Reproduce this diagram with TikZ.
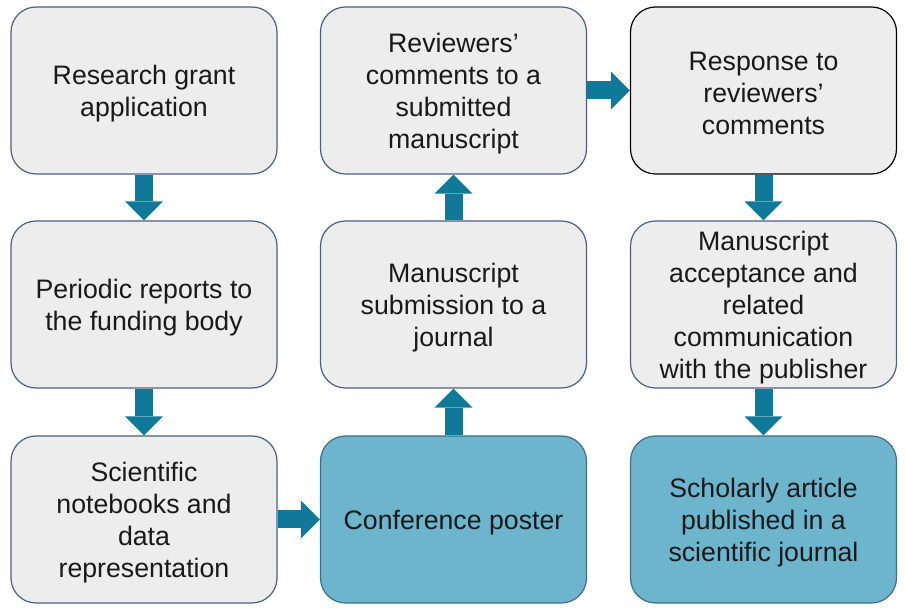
\documentclass[tikz,border=0pt]{standalone}
\usepackage{fontspec}
\setmainfont{Liberation Sans}
\usetikzlibrary{arrows.meta}
\definecolor{boxfill}{HTML}{EDEDED}
\definecolor{boxline}{HTML}{4A5F86}
\definecolor{bluefill}{HTML}{6CB5CD}
\definecolor{blueline}{HTML}{3F6E8A}
\definecolor{arrowc}{HTML}{10799A}
\begin{document}
\begin{tikzpicture}[x=1pt,y=-1pt,
  card/.style={rectangle, rounded corners=25pt, minimum width=266pt, minimum height=167pt,
    inner sep=0pt, line width=1.2pt},
  graycard/.style={card, fill=boxfill, draw=boxline},
  darkcard/.style={card, fill=boxfill, draw=black},
  bluecard/.style={card, fill=bluefill, draw=blueline},
  cardtext/.style={inner sep=0pt, align=center, font=\fontsize{26.7}{32}\selectfont, text=black!90},
  blockarrow/.style={draw=arrowc, line width=18pt,
    -{Triangle[width=38pt,length=19pt,line width=0pt]}}
]
\useasboundingbox (0,0) rectangle (906,612);
\node[graycard] (a1) at (144,90.5) {};
\node[graycard] (a2) at (144,304.5) {};
\node[graycard] (a3) at (144,519.5) {};
\node[graycard] (b1) at (453.5,90.5) {};
\node[graycard] (b2) at (453.5,304.5) {};
\node[bluecard] (b3) at (453.5,519.5) {};
\node[darkcard] (c1) at (763.5,90.5) {};
\node[graycard] (c2) at (763.5,304.5) {};
\node[bluecard] (c3) at (763.5,519.5) {};
\node[cardtext] (a1t) at ([yshift=-3pt]a1.center) {Research grant\\application};
\node[cardtext] (a2t) at ([yshift=-3pt]a2.center) {Periodic reports to\\the funding body};
\node[cardtext] (a3t) at ([yshift=-3pt]a3.center) {Scientific\\notebooks and\\data\\representation};
\node[cardtext] (b1t) at ([yshift=-3pt]b1.center) {Reviewers’\\comments to a\\submitted\\manuscript};
\node[cardtext] (b2t) at ([yshift=-3pt]b2.center) {Manuscript\\submission to a\\journal};
\node[cardtext] (b3t) at ([yshift=-3pt]b3.center) {Conference poster};
\node[cardtext] (c1t) at ([yshift=-3pt]c1.center) {Response to\\reviewers’\\comments};
\node[cardtext] (c2t) at ([yshift=-3pt]c2.center) {Manuscript\\acceptance and\\related\\communication\\with the publisher};
\node[cardtext] (c3t) at ([yshift=-3pt]c3.center) {Scholarly article\\published in a\\scientific journal};
\draw[blockarrow] (a1.south) -- (a2.north);
\draw[blockarrow] (a2.south) -- (a3.north);
\draw[blockarrow] (a3.east) -- (b3.west);
\draw[blockarrow] (b3.north) -- (b2.south);
\draw[blockarrow] (b2.north) -- (b1.south);
\draw[blockarrow] (b1.east) -- (c1.west);
\draw[blockarrow] (c1.south) -- (c2.north);
\draw[blockarrow] (c2.south) -- (c3.north);
\end{tikzpicture}
\end{document}
